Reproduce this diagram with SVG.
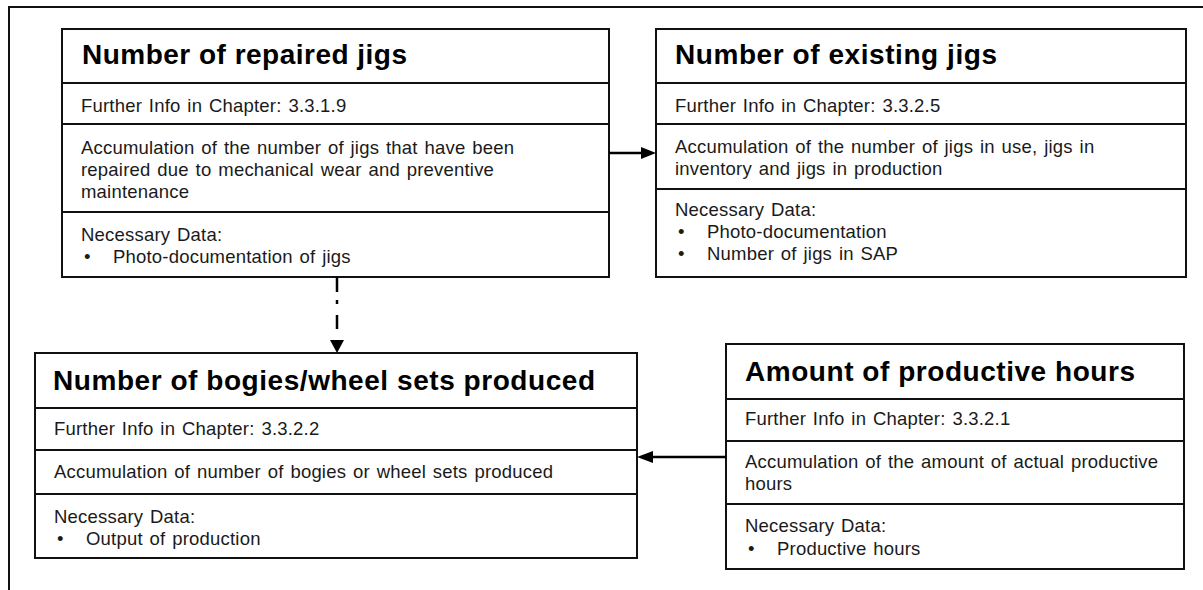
<svg xmlns="http://www.w3.org/2000/svg" width="1203" height="590" viewBox="0 0 1203 590">
  <style>
    .frame { fill: none; stroke: #111; stroke-width: 2; }
    .box { fill: #fff; stroke: #111; stroke-width: 2; }
    .sep { stroke: #111; stroke-width: 2; }
    .title { font-family: "Liberation Sans", Arial, sans-serif; font-weight: bold; font-size: 28px; fill: #000; }
    .body { font-family: "Liberation Sans", Arial, sans-serif; font-size: 18.5px; fill: #1a1a1a; letter-spacing: 0.2px; word-spacing: 1.5px; }
    .conn { stroke: #000; stroke-width: 2.5; fill: none; }
    .head { fill: #000; }
  </style>

  <rect class="frame" x="9" y="7" width="1210" height="600"/>

  <!-- Number of repaired jigs -->
  <g id="repaired-jigs">
    <rect class="box" x="62" y="29" width="547" height="248"/>
    <line class="sep" x1="62" y1="83" x2="609" y2="83"/>
    <line class="sep" x1="62" y1="124" x2="609" y2="124"/>
    <line class="sep" x1="62" y1="212" x2="609" y2="212"/>
    <text class="title" x="82" y="64" textLength="325" lengthAdjust="spacing">Number of repaired jigs</text>
    <text class="body" x="81" y="112">Further Info in Chapter: 3.3.1.9</text>
    <text class="body" x="81" y="154">Accumulation of the number of jigs that have been</text>
    <text class="body" x="81" y="176">repaired due to mechanical wear and preventive</text>
    <text class="body" x="81" y="198">maintenance</text>
    <text class="body" x="81" y="241">Necessary Data:</text>
    <text class="body" x="84" y="263">•</text>
    <text class="body" x="113" y="263">Photo-documentation of jigs</text>
  </g>

  <!-- Number of existing jigs -->
  <g id="existing-jigs">
    <rect class="box" x="656" y="29" width="530" height="248"/>
    <line class="sep" x1="656" y1="83" x2="1186" y2="83"/>
    <line class="sep" x1="656" y1="124" x2="1186" y2="124"/>
    <line class="sep" x1="656" y1="189" x2="1186" y2="189"/>
    <text class="title" x="675" y="64" textLength="322" lengthAdjust="spacing">Number of existing jigs</text>
    <text class="body" x="675" y="112">Further Info in Chapter: 3.3.2.5</text>
    <text class="body" x="675" y="153">Accumulation of the number of jigs in use, jigs in</text>
    <text class="body" x="675" y="175">inventory and jigs in production</text>
    <text class="body" x="675" y="216">Necessary Data:</text>
    <text class="body" x="678" y="238">•</text>
    <text class="body" x="707" y="238">Photo-documentation</text>
    <text class="body" x="678" y="260">•</text>
    <text class="body" x="707" y="260">Number of jigs in SAP</text>
  </g>

  <!-- Number of bogies/wheel sets produced -->
  <g id="bogies-produced">
    <rect class="box" x="35" y="353" width="602" height="205"/>
    <line class="sep" x1="35" y1="408" x2="637" y2="408"/>
    <line class="sep" x1="35" y1="450" x2="637" y2="450"/>
    <line class="sep" x1="35" y1="494" x2="637" y2="494"/>
    <text class="title" x="53" y="390" textLength="542" lengthAdjust="spacing">Number of bogies/wheel sets produced</text>
    <text class="body" x="54" y="435">Further Info in Chapter: 3.3.2.2</text>
    <text class="body" x="54" y="478">Accumulation of number of bogies or wheel sets produced</text>
    <text class="body" x="54" y="523">Necessary Data:</text>
    <text class="body" x="57" y="545">•</text>
    <text class="body" x="86" y="545">Output of production</text>
  </g>

  <!-- Amount of productive hours -->
  <g id="productive-hours">
    <rect class="box" x="726" y="344" width="458" height="225"/>
    <line class="sep" x1="726" y1="399" x2="1184" y2="399"/>
    <line class="sep" x1="726" y1="441" x2="1184" y2="441"/>
    <line class="sep" x1="726" y1="504" x2="1184" y2="504"/>
    <text class="title" x="745" y="381" textLength="390" lengthAdjust="spacing">Amount of productive hours</text>
    <text class="body" x="745" y="425">Further Info in Chapter: 3.3.2.1</text>
    <text class="body" x="745" y="468">Accumulation of the amount of actual productive</text>
    <text class="body" x="745" y="490">hours</text>
    <text class="body" x="745" y="532">Necessary Data:</text>
    <text class="body" x="748" y="555">•</text>
    <text class="body" x="777" y="555">Productive hours</text>
  </g>

  <!-- Connectors -->
  <g id="connectors">
    <!-- repaired jigs -> existing jigs -->
    <line class="conn" x1="609" y1="153" x2="642" y2="153"/>
    <polygon class="head" points="656,153 641,147 641,159"/>
    <!-- repaired jigs -> bogies produced (dash-dot) -->
    <line class="conn" x1="337" y1="277" x2="337" y2="292"/>
    <line class="conn" x1="337" y1="300" x2="337" y2="304"/>
    <line class="conn" x1="337" y1="315" x2="337" y2="329"/>
    <polygon class="head" points="337,353 330,340 344,340"/>
    <!-- productive hours -> bogies produced -->
    <line class="conn" x1="726" y1="457" x2="651" y2="457"/>
    <polygon class="head" points="637,457 653,451 653,463"/>
  </g>
</svg>
